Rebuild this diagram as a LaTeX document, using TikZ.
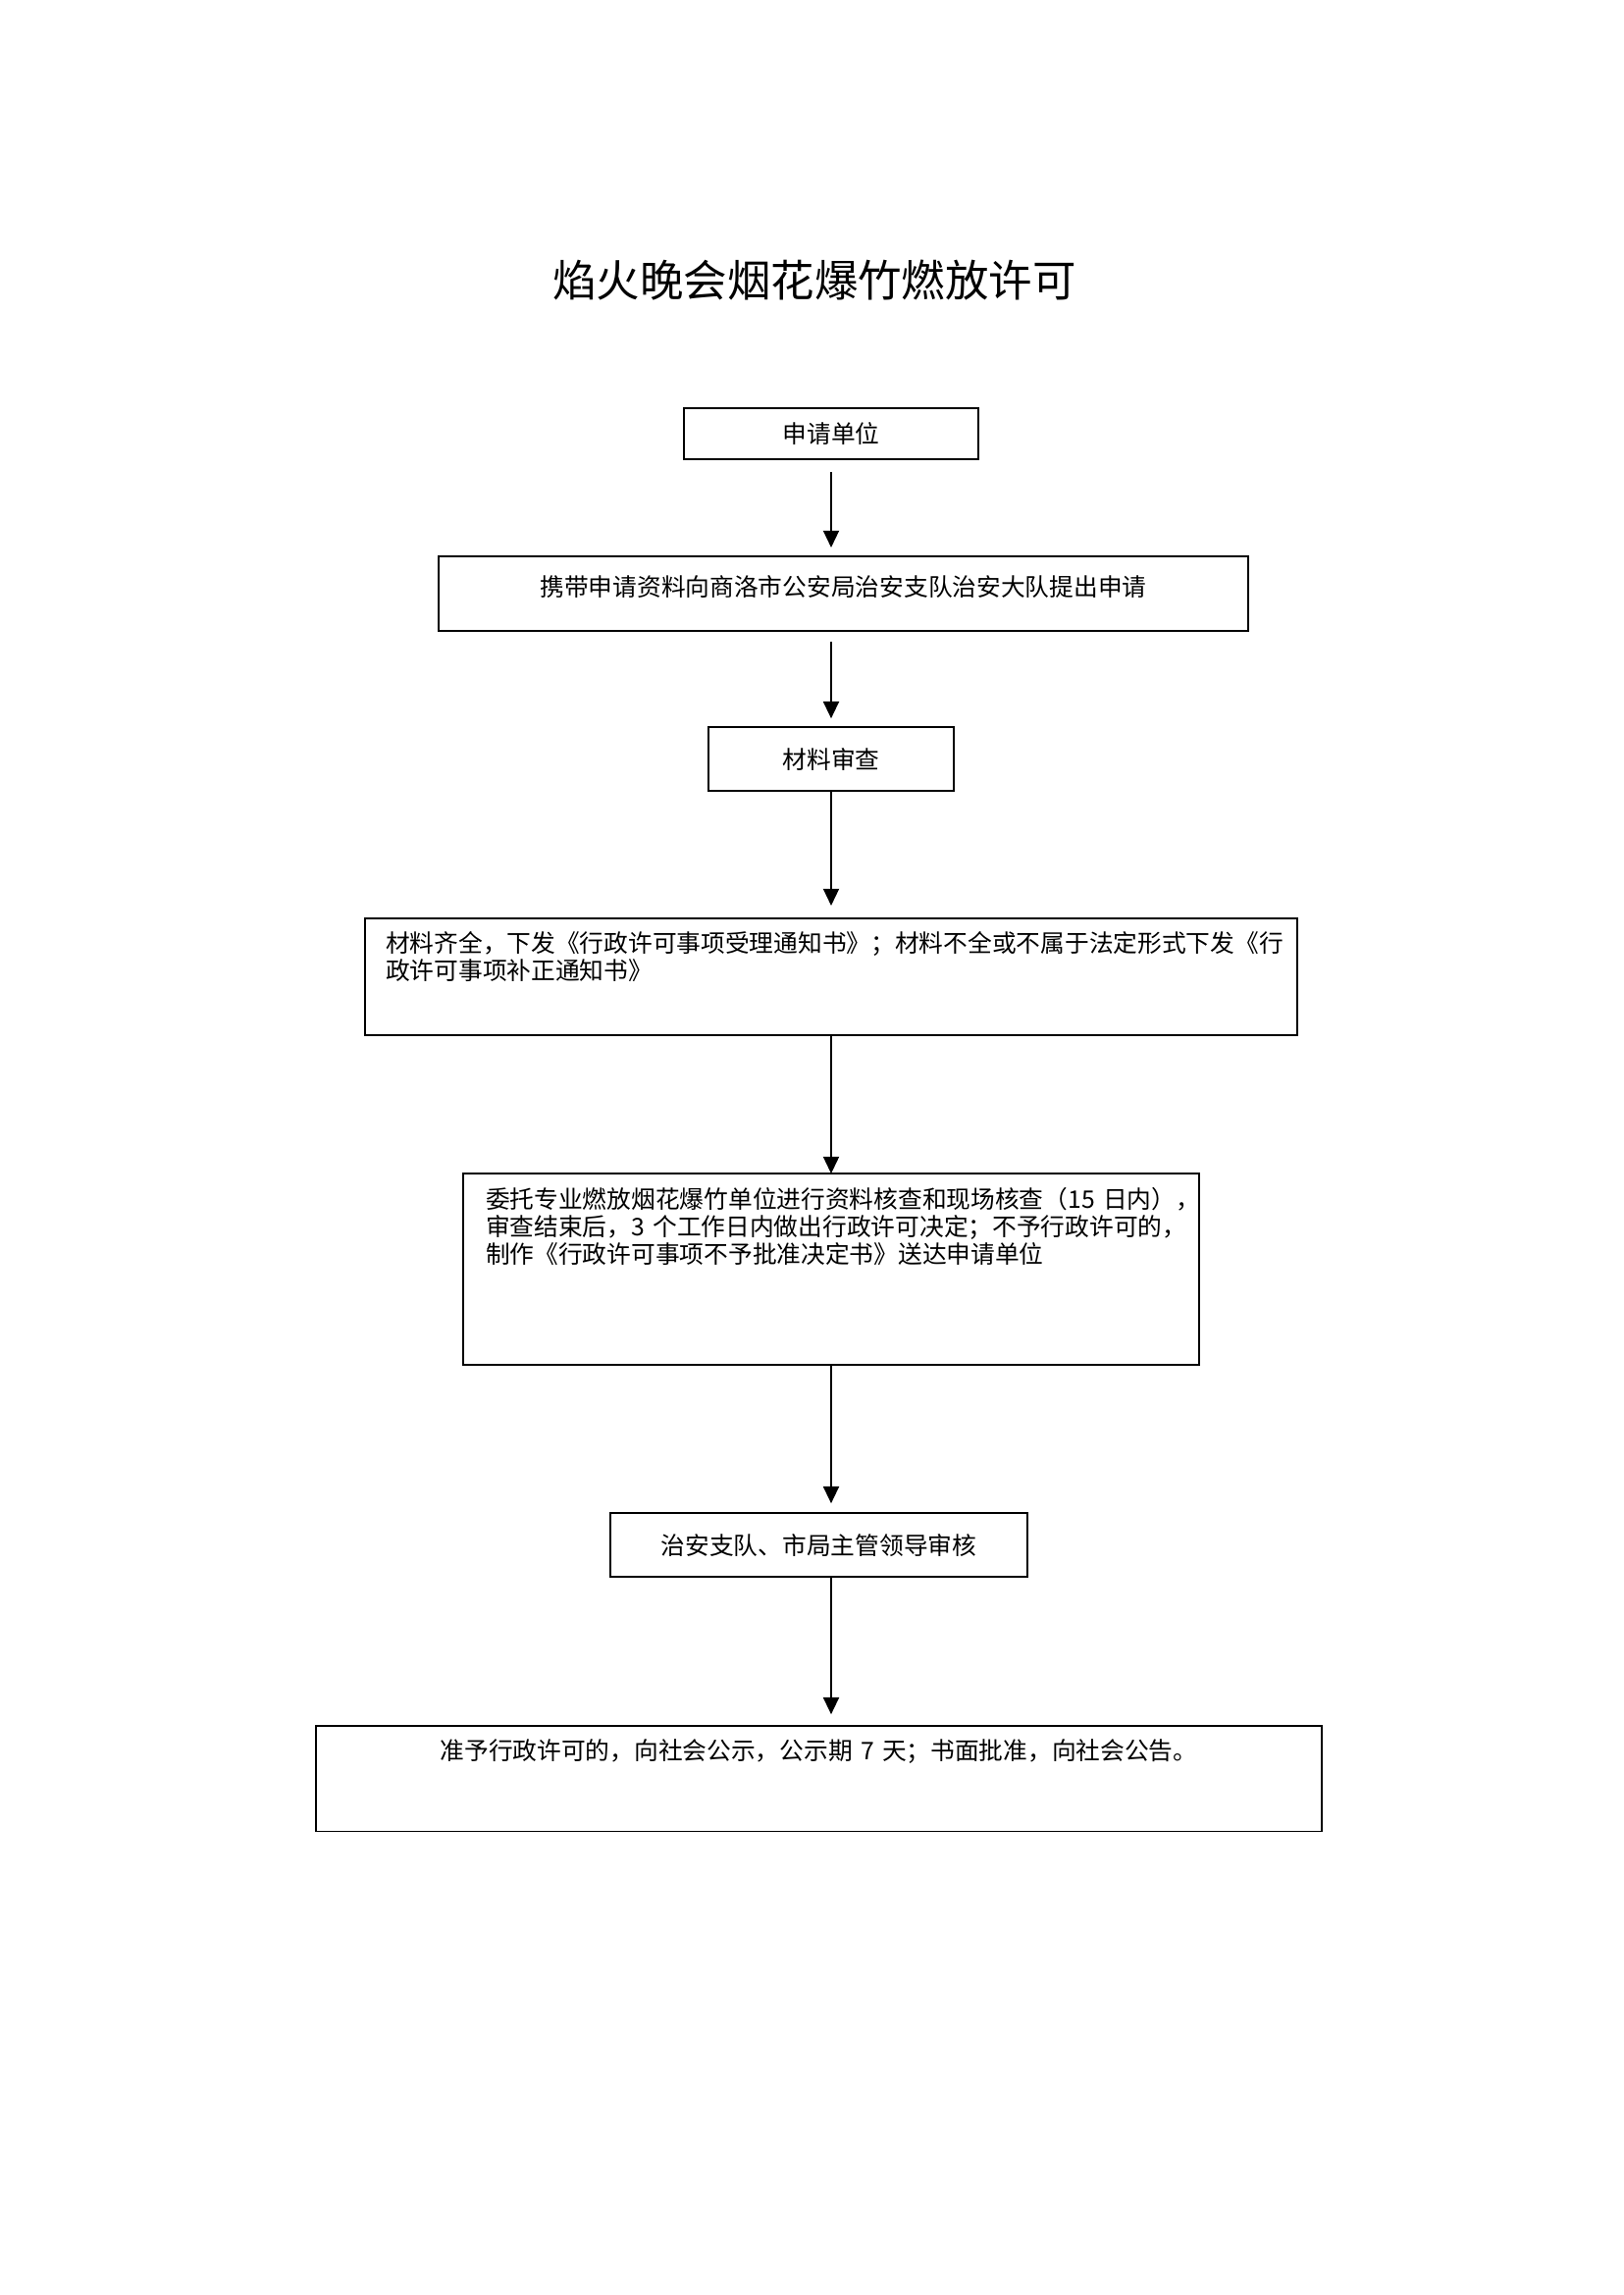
\documentclass[tikz,border=0pt]{standalone}
\usepackage{fontspec}
\setmainfont{Noto Sans CJK SC}
\usepackage{tikz}
\usetikzlibrary{
  arrows.meta,
  positioning
}

\begin{document}
\begin{tikzpicture}[x=0.36pt, y=-0.36pt, >={Triangle[width=5.8pt,length=6.2pt]},
  box/.style={draw, line width=0.5pt, inner sep=0pt, outer sep=0pt, align=center,
    font=\fontsize{8.9pt}{10pt}\selectfont},
  link/.style={->, line width=0.6pt}]
  \useasboundingbox (0,0) rectangle (1654,2339);
  \node [font=\fontsize{16pt}{18pt}\selectfont] (title) at (830,286) {焰火晚会烟花爆竹燃放许可};
  \node [box, minimum width=108pt, minimum height=18.7pt] (applicant) at (847,442) {申请单位};
  \node [box, minimum width=297pt, minimum height=27.4pt, text height=7.4pt, text depth=5.6pt,
    below=35.6pt of applicant, xshift=4.5pt] (submit) {携带申请资料向商洛市公安局治安支队治安大队提出申请};
  \node [box, minimum width=90pt, minimum height=23.4pt, below=35.3pt of submit, xshift=-4.5pt] (review) {材料审查};
  \node [box, align=left, inner xsep=7.6pt, text width=326.8pt, text height=12.4pt, text depth=30.4pt,
    below=46.8pt of review] (notice) {材料齐全，下发《行政许可事项受理通知书》；材料不全或不属于法定形式下发《行\\政许可事项补正通知书》};
  \node [box, align=left, inner xsep=8.3pt, text width=253.4pt, text height=12.8pt, text depth=57.4pt,
    below=50.8pt of notice] (entrust) {委托专业燃放烟花爆竹单位进行资料核查和现场核查（15~日内），\\审查结束后，3~个工作日内做出行政许可决定；不予行政许可的，\\制作《行政许可事项不予批准决定书》送达申请单位};
  \node [box, minimum width=153pt, minimum height=23.4pt, below=54.4pt of entrust, xshift=-4.5pt] (leader) {治安支队、市局主管领导审核};
  \node [box, text width=369pt, text height=12.4pt, text depth=26.3pt,
    below=54.7pt of leader] (approve) {准予行政许可的，向社会公示，公示期~7~天；书面批准，向社会公告。};

  \draw [link, shorten <=4.7pt, shorten >=3.2pt] (applicant.south) -- (applicant.south |- submit.north);
  \draw [link, shorten <=4pt, shorten >=3.2pt] (submit.south -| applicant.south) -- (review.north);
  \draw [link, shorten >=4.7pt] (review) -- (notice);
  \draw [link] (notice) -- (entrust);
  \draw [link, shorten >=3.6pt] (entrust.south) -- (entrust.south |- leader.north);
  \draw [link, shorten >=4.3pt] (leader.south -| entrust.south) -- (approve.north -| entrust.south);
\end{tikzpicture}
\end{document}
